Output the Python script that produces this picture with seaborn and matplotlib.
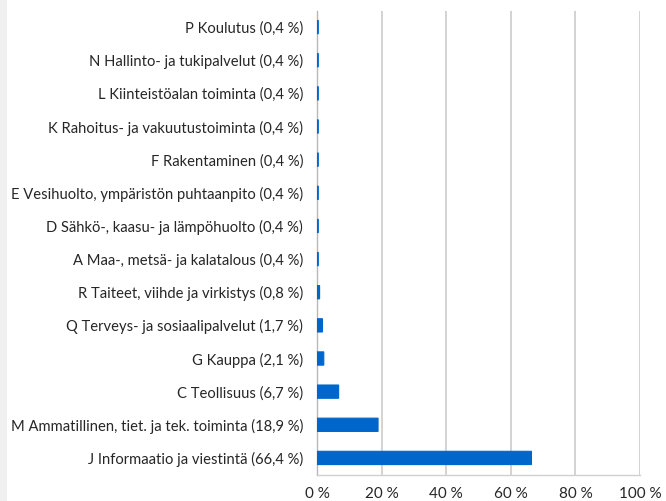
import numpy as np
import pandas as pd
import matplotlib
matplotlib.use('Agg')
import matplotlib.pyplot as plt
import seaborn as sns
from matplotlib.patches import Rectangle
from matplotlib.ticker import FuncFormatter, FixedLocator

# Toimialat (ylhäältä alas) ja osuudet prosentteina
categories = [
    'P Koulutus (0,4 %)',
    'N Hallinto- ja tukipalvelut (0,4 %)',
    'L Kiinteistöalan toiminta (0,4 %)',
    'K Rahoitus- ja vakuutustoiminta (0,4 %)',
    'F Rakentaminen (0,4 %)',
    'E Vesihuolto, ympäristön puhtaanpito (0,4 %)',
    'D Sähkö-, kaasu- ja lämpöhuolto (0,4 %)',
    'A Maa-, metsä- ja kalatalous (0,4 %)',
    'R Taiteet, viihde ja virkistys (0,8 %)',
    'Q Terveys- ja sosiaalipalvelut (1,7 %)',
    'G Kauppa (2,1 %)',
    'C Teollisuus (6,7 %)',
    'M Ammatillinen, tiet. ja tek. toiminta (18,9 %)',
    'J Informaatio ja viestintä (66,4 %)',
]
shares = [0.4, 0.4, 0.4, 0.4, 0.4, 0.4, 0.4, 0.4, 0.8, 1.7, 2.1, 6.7, 18.9, 66.4]
x_ticks = [0, 20, 40, 60, 80, 100]

df = pd.DataFrame({'toimiala': categories, 'osuus': shares})

sns.set_style('white')
plt.rcParams['font.family'] = ['Lato', 'DejaVu Sans']

fig = plt.figure(figsize=(6.66, 5.01), dpi=100)
fig.patch.set_facecolor('white')
# harmaa reunus vasemmalla
fig.patches.append(Rectangle((0, 0), 7 / 666, 1, transform=fig.transFigure,
                             facecolor='#f0f0f0', edgecolor='none', zorder=0))

ax = fig.add_axes([317 / 666, 1 - 474.5 / 501, (640 - 317) / 666, (474.5 - 10.5) / 501])
sns.barplot(data=df, x='osuus', y='toimiala', color='#0066cc', saturation=1,
            width=0.40, edgecolor='#0066cc', linewidth=0.8, ax=ax, zorder=4)
for bar in ax.patches:
    bar.set_snap(False)

ax.set_xlim(0, 100)
ax.set_ylim(len(categories) - 0.5, -0.5)
ax.xaxis.set_major_locator(FixedLocator(x_ticks))
ax.xaxis.set_major_formatter(FuncFormatter(lambda v, p: f'{int(v)} %'))
ax.grid(axis='x', color='#d0d0d0', linewidth=1.3, zorder=0)
ax.set_xlabel('')
ax.set_ylabel('')

for side in ['top', 'right']:
    ax.spines[side].set_visible(False)
ax.spines['left'].set_color('#b8b8b8')
ax.spines['bottom'].set_color('#d0d0d0')
ax.spines['left'].set_linewidth(1.0)
ax.spines['bottom'].set_linewidth(1.0)
ax.spines['left'].set_zorder(2)

# y-akselin väliviivat luokkien rajoilla
ax.set_yticks(np.arange(len(categories)))
ax.set_yticks(np.arange(len(categories) + 1) - 0.5, minor=True)
ax.tick_params(axis='y', which='major', length=0, pad=10, labelsize=10.6, labelcolor='#262626')
ax.tick_params(axis='y', which='minor', length=5, color='#b8b8b8', width=1)
ax.tick_params(axis='x', which='major', length=6, color='#d0d0d0', width=1.3,
               labelsize=11, labelcolor='#262626', pad=3)

fig.savefig('out.png', dpi=100, facecolor='white')
